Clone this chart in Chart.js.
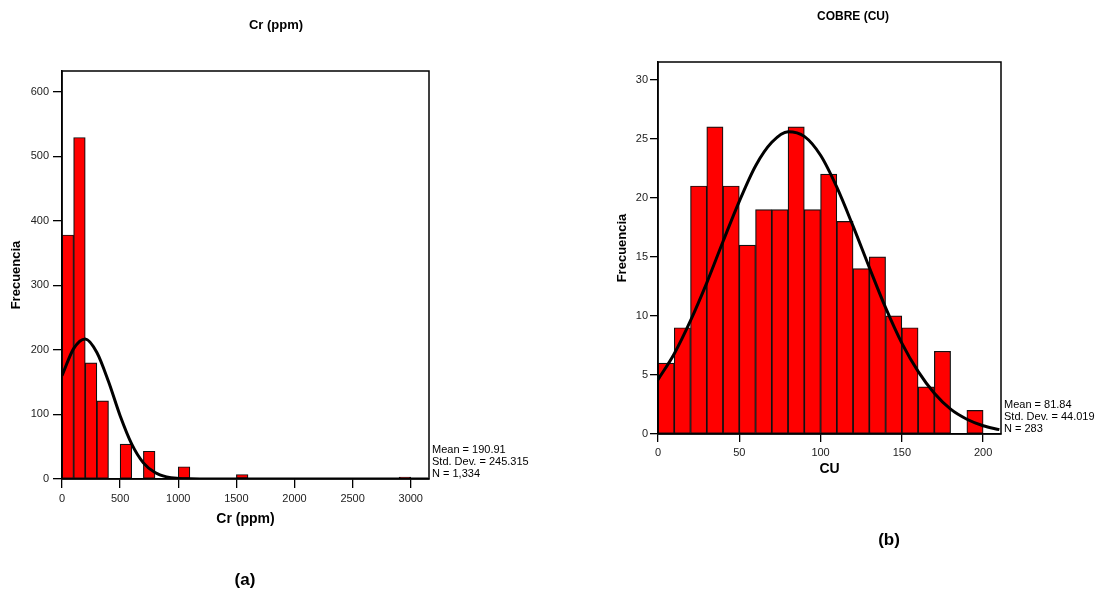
<!DOCTYPE html>
<html>
<head>
<meta charset="utf-8">
<script src="https://cdn.jsdelivr.net/npm/chart.js@4.4.0/dist/chart.umd.min.js"></script>
<style>
  body { margin: 0; background: #fff; }
  #wrap { position: relative; width: 1096px; height: 605px; }
  canvas { position: absolute; top: 0; }
  #chartCr { left: 0; }
  #chartCu { left: 548px; }
</style>
</head>
<body>
<div id="wrap">
  <canvas id="chartCr" width="548" height="605"></canvas>
  <canvas id="chartCu" width="548" height="605"></canvas>
</div>
<script>
// ---- (a) Cr (ppm) ----
const crBinWidth = 100;
const crBinStart = [0, 100, 200, 300, 500, 700, 1000, 1500, 2900];
const crCounts = [378, 529, 180, 121, 54, 43, 19, 7, 3];
const crCurveX = [0, 100, 200, 300, 400, 500, 600, 700, 800, 900, 1000, 1100, 1200, 1500, 2000, 2500, 3000, 3150];
const crCurveY = [160, 202, 217, 196, 151, 98, 54, 25, 10, 3.3, 0.9, 0.2, 0.05, 0, 0, 0, 0, 0];
const crXTicks = [0, 500, 1000, 1500, 2000, 2500, 3000];
const crYTicks = [0, 100, 200, 300, 400, 500, 600];
const crStats = ["Mean = 190.91", "Std. Dev. = 245.315", "N = 1,334"];

// ---- (b) COBRE (CU) ----
const cuBinWidth = 10;
const cuBinStart = [0, 10, 20, 30, 40, 50, 60, 70, 80, 90, 100, 110, 120, 130, 140, 150, 160, 170, 190];
const cuCounts = [6, 9, 21, 26, 21, 16, 19, 19, 26, 19, 22, 18, 14, 15, 10, 9, 4, 7, 2];
const cuCurveX = [0, 10, 20, 30, 40, 50, 60, 70, 80, 90, 100, 110, 120, 130, 140, 150, 160, 170, 180, 190, 200, 210];
const cuCurveY = [4.6, 6.8, 9.6, 12.8, 16.3, 19.7, 22.7, 24.7, 25.6, 25.2, 23.6, 20.9, 17.6, 14.1, 10.7, 7.7, 5.3, 3.45, 2.1, 1.25, 0.7, 0.37];
const cuXTicks = [0, 50, 100, 150, 200];
const cuYTicks = [0, 5, 10, 15, 20, 25, 30];
const cuStats = ["Mean = 81.84", "Std. Dev. = 44.019", "N = 283"];

const FONT = "'Liberation Sans', Arial, Helvetica, sans-serif";

function toBars(starts, counts, w) {
  return starts.map((s, i) => ({ x: s + w / 2, y: counts[i] }));
}
function toPoints(xs, ys) {
  return xs.map((x, i) => ({ x: x, y: ys[i] }));
}

// caja alrededor del area del grafico
const framePlugin = {
  id: "frame",
  afterDatasetsDraw(chart) {
    const { ctx, chartArea: a } = chart;
    ctx.save();
    ctx.strokeStyle = "#000";
    ctx.lineWidth = 1.5;
    ctx.strokeRect(a.left, a.top, a.right - a.left, a.bottom - a.top);
    ctx.restore();
  }
};

// titulo, etiqueta (a)/(b) y estadisticas
const notesPlugin = {
  id: "notes",
  afterDraw(chart, args, opts) {
    const { ctx, chartArea: a } = chart;
    ctx.save();
    ctx.fillStyle = "#000";
    ctx.textBaseline = "middle";
    ctx.textAlign = "center";
    opts.items.forEach(it => {
      ctx.font = it.font;
      ctx.fillText(it.text, it.x, it.y);
    });
    ctx.textAlign = "left";
    ctx.font = "11px " + FONT;
    const n = opts.stats.length;
    opts.stats.forEach((s, i) => {
      ctx.fillText(s, a.right + 3, a.bottom - 5 - (n - 1 - i) * opts.statGap);
    });
    ctx.restore();
  }
};

function makeHist(id, c) {
  const ctx = document.getElementById(id).getContext("2d");
  return new Chart(ctx, {
    type: "bar",
    data: {
      datasets: [
        {
          type: "line",
          data: toPoints(c.curveX, c.curveY),
          borderColor: "#000",
          borderWidth: 3,
          pointRadius: 0,
          cubicInterpolationMode: "monotone",
          fill: false,
          order: 0
        },
        {
          type: "bar",
          data: toBars(c.binStart, c.counts, c.binWidth),
          backgroundColor: "#ff0000",
          borderColor: "#111",
          borderWidth: 1.2,
          borderSkipped: false,
          barPercentage: 1,
          categoryPercentage: 1,
          order: 1
        }
      ]
    },
    options: {
      responsive: false,
      animation: false,
      layout: { padding: c.padding },
      plugins: {
        legend: { display: false },
        tooltip: { enabled: false },
        notes: { items: c.notes, stats: c.stats, statGap: c.statGap }
      },
      scales: {
        x: {
          type: "linear",
          min: 0,
          max: c.xMax,
          offset: false,
          afterBuildTicks: s => { s.ticks = c.xTicks.map(v => ({ value: v })); },
          afterFit: s => { s.height = c.xHeight; },
          grid: { drawOnChartArea: false, drawTicks: true, tickLength: c.tickLen, color: "#000", lineWidth: 1.3, offset: false },
          border: { display: true, color: "#000", width: 1.5 },
          ticks: { color: "#222", font: { family: FONT, size: 11 }, padding: 4, maxRotation: 0, autoSkip: false, callback: v => String(v) },
          title: { display: true, text: c.xTitle, color: "#000", font: { family: FONT, size: 14, weight: "bold" }, padding: { top: 0, bottom: 1 } }
        },
        y: {
          min: 0,
          max: c.yMax,
          afterBuildTicks: s => { s.ticks = c.yTicks.map(v => ({ value: v })); },
          afterFit: s => { s.width = c.yWidth; },
          grid: { drawOnChartArea: false, drawTicks: true, tickLength: c.tickLen, color: "#000", lineWidth: 1.3 },
          border: { display: true, color: "#000", width: 1.5 },
          ticks: { color: "#222", font: { family: FONT, size: 11 }, padding: c.yTickPad, callback: v => String(v) },
          title: { display: true, text: "Frecuencia", color: "#000", font: { family: FONT, size: 13, weight: "bold" }, padding: { top: c.yTitlePad, bottom: 0 } }
        }
      }
    },
    plugins: [framePlugin, notesPlugin]
  });
}

makeHist("chartCr", {
  binWidth: crBinWidth, binStart: crBinStart, counts: crCounts,
  curveX: crCurveX, curveY: crCurveY,
  xTicks: crXTicks, yTicks: crYTicks, xMax: 3157, yMax: 632,
  xTitle: "Cr (ppm)", stats: crStats, statGap: 12,
  padding: { top: 71, left: 0, right: 119, bottom: 76 },
  xHeight: 50, yWidth: 62, tickLen: 9, yTickPad: 4, yTitlePad: 9,
  notes: [
    { text: "Cr (ppm)", x: 276, y: 25, font: "bold 13px " + FONT },
    { text: "(a)", x: 245, y: 580, font: "bold 17px " + FONT }
  ]
});

makeHist("chartCu", {
  binWidth: cuBinWidth, binStart: cuBinStart, counts: cuCounts,
  curveX: cuCurveX, curveY: cuCurveY,
  xTicks: cuXTicks, yTicks: cuYTicks, xMax: 211, yMax: 31.5,
  xTitle: "CU", stats: cuStats, statGap: 12,
  padding: { top: 62, left: 55, right: 95, bottom: 126 },
  xHeight: 45, yWidth: 55, tickLen: 8, yTickPad: 2, yTitlePad: 12,
  notes: [
    { text: "COBRE (CU)", x: 305, y: 17, font: "bold 12px " + FONT },
    { text: "(b)", x: 341, y: 540, font: "bold 17px " + FONT }
  ]
});
</script>
</body>
</html>
